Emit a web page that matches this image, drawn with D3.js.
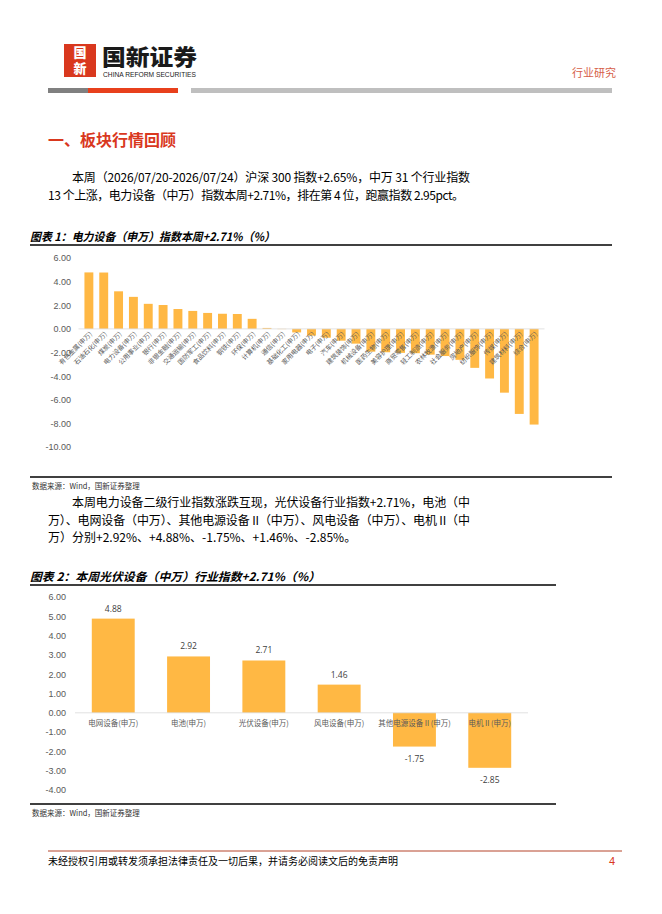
<!DOCTYPE html>
<html>
<head>
<meta charset="utf-8">
<script src="https://cdn.jsdelivr.net/npm/d3@7"></script>
<style>
  body { margin: 0; background: #fff; }
  text { font-family: "Liberation Sans", "Noto Sans CJK SC", sans-serif; }
</style>
</head>
<body>
<div id="page"></div>
<script>
// ------------------- //
// DATA
// ------------------- //

// chart 1 : 31 SW industries, weekly change (%)
var industries = ["有色金属(申万)", "石油石化(申万)", "煤炭(申万)", "电力设备(申万)", "公用事业(申万)",
  "银行(申万)", "非银金融(申万)", "交通运输(申万)", "国防军工(申万)", "食品饮料(申万)", "钢铁(申万)",
  "环保(申万)", "计算机(申万)", "通信(申万)", "基础化工(申万)", "家用电器(申万)", "电子(申万)",
  "汽车(申万)", "建筑装饰(申万)", "机械设备(申万)", "医药生物(申万)", "美容护理(申万)", "商贸零售(申万)",
  "轻工制造(申万)", "农林牧渔(申万)", "社会服务(申万)", "房地产(申万)", "纺织服饰(申万)", "传媒(申万)",
  "建筑材料(申万)", "综合(申万)"]
var industryChange = [4.78, 4.77, 3.18, 2.71, 2.12, 2.02, 1.68, 1.52, 1.35, 1.28, 1.26,
  0.85, 0.08, -0.02, -0.30, -0.57, -0.75, -1.00, -1.25, -1.93, -1.98, -2.03, -2.06,
  -2.18, -2.30, -2.62, -3.30, -4.20, -5.40, -7.20, -8.10]
var ticks1 = [6, 4, 2, 0, -2, -4, -6, -8, -10]

// chart 2 : power equipment sub-industries
var subIndustries = ["电网设备(申万)", "电池(申万)", "光伏设备(申万)", "风电设备(申万)", "其他电源设备Ⅱ(申万)", "电机Ⅱ(申万)"]
var subChange = [4.88, 2.92, 2.71, 1.46, -1.75, -2.85]
var ticks2 = [6, 5, 4, 3, 2, 1, 0, -1, -2, -3, -4]

// text of the page
var para1 = ["本周（2026/07/20-2026/07/24）沪深 300 指数+2.65%，中万 31 个行业指数",
  "13 个上涨，电力设备（中万）指数本周+2.71%，排在第 4 位，跑赢指数 2.95pct。"]
var para2 = ["本周电力设备二级行业指数涨跌互现，光伏设备行业指数+2.71%，电池（中",
  "万）、电网设备（中万）、其他电源设备 II（中万）、风电设备（中万）、电机 II（中",
  "万）分别+2.92%、+4.88%、-1.75%、+1.46%、-2.85%。"]

var barColor = "#FFB844",
  grey = "#595959",
  red = "#D9381E"

// two decimals with a plain hyphen as minus sign
var fmt = function(d) { return (+d).toFixed(2) }

var svg = d3.select("#page")
  .append("svg")
    .attr("width", 662)
    .attr("height", 914)

// ------------------- //
// HEADER
// ------------------- //

svg.append("rect")
  .attr("x", 64).attr("y", 44).attr("width", 32).attr("height", 33)
  .attr("fill", red)
// logo glyphs, stacked in one vertical text
svg.append("text")
  .attr("x", 80).attr("y", 46)
  .style("writing-mode", "vertical-rl")
  .style("font-family", "Noto Sans CJK SC").style("font-weight", 900)
  .style("font-size", "13px").style("letter-spacing", "3px")
  .attr("fill", "#fff")
  .text("国新")

svg.append("text")
  .attr("x", 102).attr("y", 65)
  .style("font-family", "Noto Sans CJK SC").style("font-weight", 900)
  .style("font-size", "22px").attr("fill", "#1a1a1a")
  .attr("textLength", 95).attr("lengthAdjust", "spacingAndGlyphs")
  .text("国新证券")
svg.append("text")
  .attr("x", 103).attr("y", 77)
  .style("font-size", "7px").attr("fill", "#1a1a1a")
  .attr("textLength", 93).attr("lengthAdjust", "spacingAndGlyphs")
  .text("CHINA REFORM SECURITIES")

svg.append("text")
  .attr("x", 616).attr("y", 77).attr("text-anchor", "end")
  .style("font-family", "Noto Sans CJK SC").style("font-size", "11px")
  .attr("fill", "#D6604A")
  .text("行业研究")

// colored rule under the logo
svg.append("rect").attr("x", 48).attr("y", 88).attr("width", 40).attr("height", 5).attr("fill", "#808080")
svg.append("rect").attr("x", 88).attr("y", 88).attr("width", 90).attr("height", 5).attr("fill", "#E8401C")
svg.append("rect").attr("x", 191).attr("y", 88).attr("width", 421).attr("height", 5).attr("fill", "#BFBFBF")

// section title
svg.append("text")
  .attr("x", 48).attr("y", 146)
  .style("font-family", "Noto Sans CJK SC").style("font-weight", 700)
  .style("font-size", "16px").attr("fill", red)
  .text("一、板块行情回顾")

// paragraphs, lengths are the line ends read on the page
function paragraph(lines, y0, ends) {
  lines.forEach(function(t, i) {
    var x = i == 0 ? 72 : 48
    var txt = svg.append("text")
      .attr("x", x).attr("y", y0 + i * 17.5)
      .style("font-family", "Noto Sans CJK SC").style("font-size", "12px")
      .attr("fill", "#000")
      .text(t)
    if (ends[i]) {
      txt.attr("textLength", ends[i] - x).attr("lengthAdjust", "spacing")
    }
  })
}
paragraph(para1, 182, [470, 464])
paragraph(para2, 507, [470, 470, 0])

// chart titles and rules
function chartTitle(t, y, len, ruleEnd) {
  svg.append("text")
    .attr("x", 30).attr("y", y)
    .style("font-family", "Noto Sans CJK SC").style("font-weight", 700)
    .style("font-style", "italic").style("font-size", "11.5px")
    .attr("fill", "#000")
    .attr("textLength", len).attr("lengthAdjust", "spacingAndGlyphs")
    .text(t)
  svg.append("line")
    .attr("x1", 30).attr("x2", ruleEnd).attr("y1", y + 4).attr("y2", y + 4)
    .attr("stroke", "#000").attr("stroke-width", 1.3)
}

function source(y, ruleEnd) {
  svg.append("line")
    .attr("x1", 30).attr("x2", ruleEnd).attr("y1", y).attr("y2", y)
    .attr("stroke", "#000").attr("stroke-width", 1.3)
  svg.append("text")
    .attr("x", 32).attr("y", y + 12)
    .style("font-family", "Noto Sans CJK SC").style("font-size", "7.5px")
    .attr("fill", "#333")
    .text("数据来源：Wind，国新证券整理")
}

// ------------------- //
// CHART 1
// ------------------- //

chartTitle("图表 1：电力设备（申万）指数本周+2.71%（%）", 241, 245, 612)

var y1 = d3.scaleLinear()
  .domain([-10, 6])
  .range([447, 258])
var x1 = d3.scaleBand()
  .domain(industries)
  .range([78.5, 544.5])
  .padding(0.4)

svg.append("g")
  .attr("transform", "translate(71,0)")
  .call(d3.axisLeft(y1).tickValues(ticks1).tickFormat(fmt).tickSize(0).tickPadding(0))
  .call(function(g) { g.select(".domain").remove() })
  .selectAll("text")
    .attr("fill", grey)
    .style("font-size", "9px")

svg.selectAll(".bar1")
  .data(industryChange)
  .enter()
  .append("rect")
    .attr("class", "bar1")
    .attr("x", function(d, i) { return x1(industries[i]) })
    .attr("width", x1.bandwidth())
    .attr("y", function(d) { return y1(Math.max(0, d)) })
    .attr("height", function(d) { return Math.abs(y1(d) - y1(0)) })
    .attr("fill", barColor)

svg.append("line")
  .attr("x1", 78.5).attr("x2", 544.5)
  .attr("y1", y1(0)).attr("y2", y1(0))
  .attr("stroke", "#D9D9D9").attr("stroke-width", 0.8)

svg.selectAll(".lab1")
  .data(industries)
  .enter()
  .append("text")
    .attr("class", "lab1")
    .attr("transform", function(d) {
      return "translate(" + (x1(d) + x1.bandwidth() / 2 + 2) + "," + (y1(0) + 4) + ") rotate(-45)" })
    .attr("text-anchor", "end")
    .attr("dy", "0.35em")
    .style("font-family", "Noto Sans CJK SC")
    .style("font-size", "6.5px")
    .attr("fill", grey)
    .text(function(d) { return d })

source(477, 612)

// ------------------- //
// CHART 2
// ------------------- //

chartTitle("图表 2：本周光伏设备（中万）行业指数+2.71%（%）", 581, 290, 556)

var y2 = d3.scaleLinear()
  .domain([-4, 6])
  .range([790, 597])
var x2 = d3.scaleBand()
  .domain(subIndustries)
  .range([75, 528])
  .paddingInner(0.43)
  .paddingOuter(0.223)

svg.append("g")
  .attr("transform", "translate(66,0)")
  .call(d3.axisLeft(y2).tickValues(ticks2).tickFormat(fmt).tickSize(0).tickPadding(0))
  .call(function(g) { g.select(".domain").remove() })
  .selectAll("text")
    .attr("fill", grey)
    .style("font-size", "9px")

svg.selectAll(".bar2")
  .data(subChange)
  .enter()
  .append("rect")
    .attr("class", "bar2")
    .attr("x", function(d, i) { return x2(subIndustries[i]) })
    .attr("width", x2.bandwidth())
    .attr("y", function(d) { return y2(Math.max(0, d)) })
    .attr("height", function(d) { return Math.abs(y2(d) - y2(0)) })
    .attr("fill", barColor)

svg.append("line")
  .attr("x1", 75).attr("x2", 528)
  .attr("y1", y2(0)).attr("y2", y2(0))
  .attr("stroke", "#D9D9D9").attr("stroke-width", 0.8)

// value labels
svg.selectAll(".val2")
  .data(subChange)
  .enter()
  .append("text")
    .attr("class", "val2")
    .attr("x", function(d, i) { return x2(subIndustries[i]) + x2.bandwidth() / 2 })
    .attr("y", function(d) { return d >= 0 ? y2(d) - 7 : y2(d) + 15 })
    .attr("text-anchor", "middle")
    .style("font-family", "Open Sans, sans-serif")
    .style("font-size", "8.5px")
    .attr("fill", "#404040")
    .text(fmt)

// category labels
svg.selectAll(".lab2")
  .data(subIndustries)
  .enter()
  .append("text")
    .attr("class", "lab2")
    .attr("x", function(d) { return x2(d) + x2.bandwidth() / 2 })
    .attr("y", y2(0) + 13)
    .attr("text-anchor", "middle")
    .style("font-family", "Noto Sans CJK SC")
    .style("font-size", "7.5px")
    .attr("fill", grey)
    .text(function(d) { return d })

source(804, 556)

// ------------------- //
// FOOTER
// ------------------- //

svg.append("line")
  .attr("x1", 48).attr("x2", 622).attr("y1", 851).attr("y2", 851)
  .attr("stroke", "#B5452A").attr("stroke-width", 1)
svg.append("text")
  .attr("x", 48).attr("y", 865)
  .style("font-family", "Noto Sans CJK SC").style("font-size", "10px")
  .attr("fill", "#000")
  .attr("textLength", 350).attr("lengthAdjust", "spacing")
  .text("未经授权引用或转发须承担法律责任及一切后果，并请务必阅读文后的免责声明")
svg.append("text")
  .attr("x", 615).attr("y", 865).attr("text-anchor", "end")
  .style("font-size", "11px")
  .attr("fill", red)
  .text("4")
</script>
</body>
</html>
